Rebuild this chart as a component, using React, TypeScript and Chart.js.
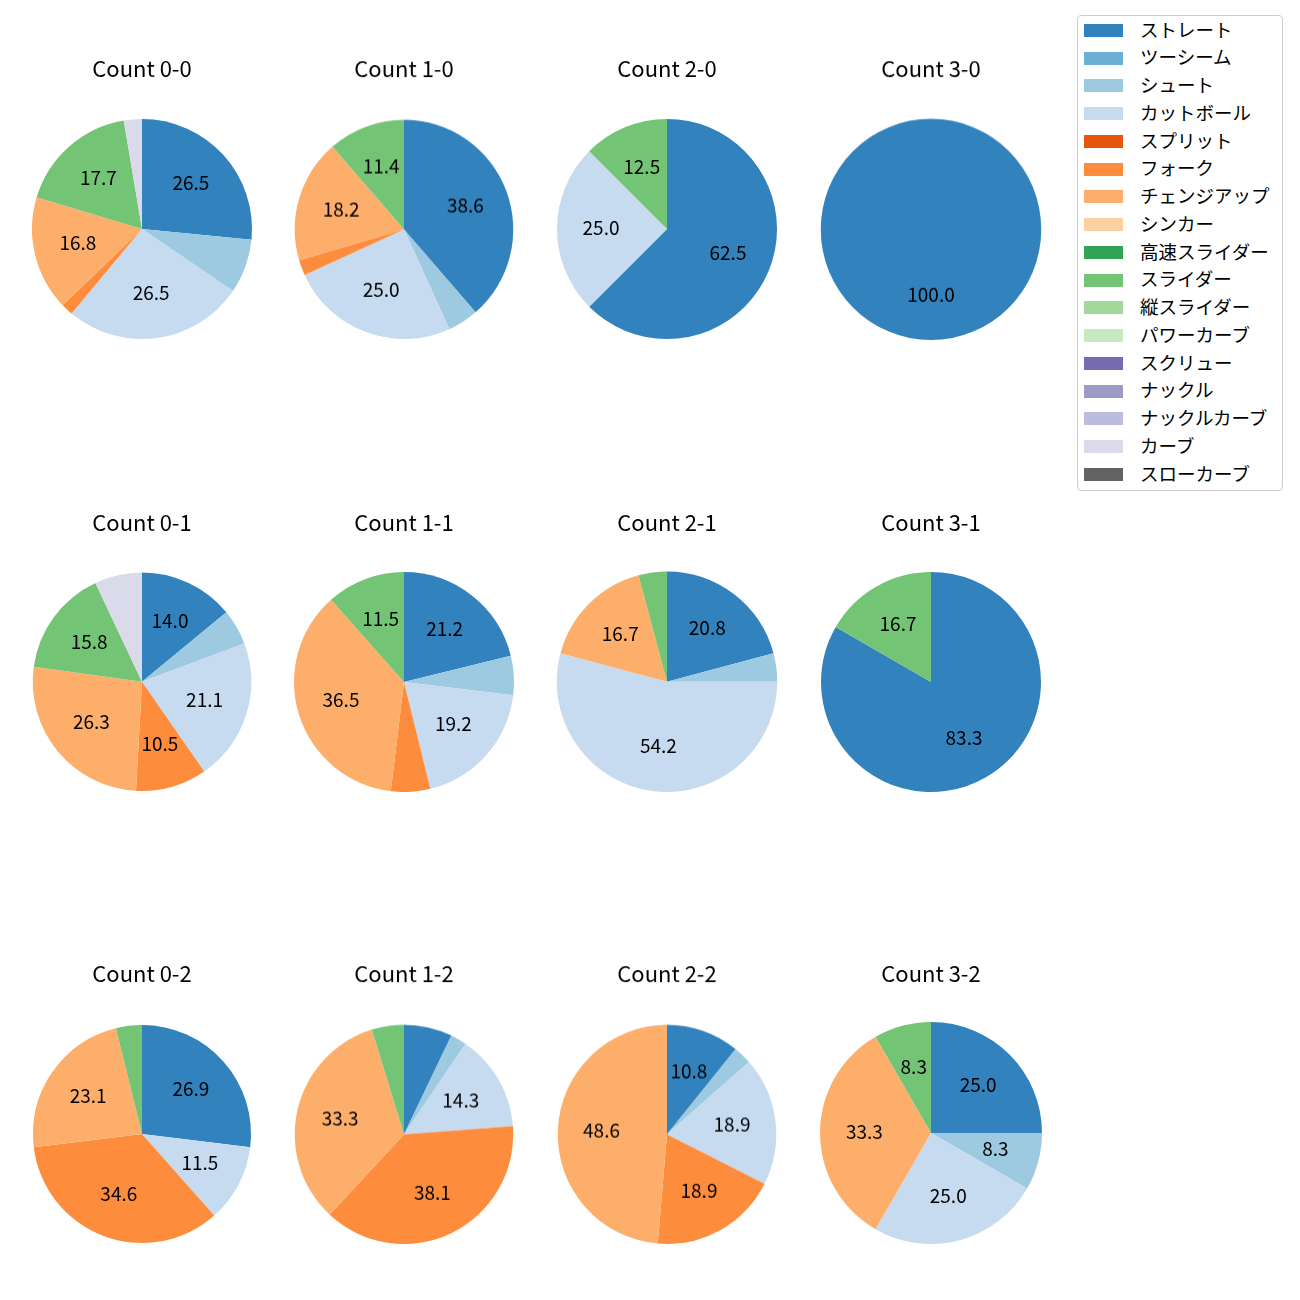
import React, { useEffect, useRef } from "react";
import { Chart, registerables } from "chart.js";

Chart.register(...registerables);

// ---------- data ----------
const pitchTypes = [
  "ストレート", "ツーシーム", "シュート", "カットボール", "スプリット", "フォーク",
  "チェンジアップ", "シンカー", "高速スライダー", "スライダー", "縦スライダー",
  "パワーカーブ", "スクリュー", "ナックル", "ナックルカーブ", "カーブ", "スローカーブ",
];
const pitchColors = [
  "#3182bd", "#6baed6", "#9ecae1", "#c6dbef", "#e6550d", "#fd8d3c",
  "#fdae6b", "#fdd0a2", "#31a354", "#74c476", "#a1d99b",
  "#c7e9c0", "#756bb1", "#9e9ac8", "#bcbddc", "#dadaeb", "#636363",
];

const countTitles = [
  "Count 0-0", "Count 1-0", "Count 2-0", "Count 3-0",
  "Count 0-1", "Count 1-1", "Count 2-1", "Count 3-1",
  "Count 0-2", "Count 1-2", "Count 2-2", "Count 3-2",
];

// pitch counts per pitch type (same order as pitchTypes)
const count00 = [30, 0, 9, 30, 0, 2, 19, 0, 0, 20, 0, 0, 0, 0, 0, 3, 0];
const count10 = [17, 0, 2, 11, 0, 1, 8, 0, 0, 5, 0, 0, 0, 0, 0, 0, 0];
const count20 = [5, 0, 0, 2, 0, 0, 0, 0, 0, 1, 0, 0, 0, 0, 0, 0, 0];
const count30 = [1, 0, 0, 0, 0, 0, 0, 0, 0, 0, 0, 0, 0, 0, 0, 0, 0];
const count01 = [8, 0, 3, 12, 0, 6, 15, 0, 0, 9, 0, 0, 0, 0, 0, 4, 0];
const count11 = [11, 0, 3, 10, 0, 3, 19, 0, 0, 6, 0, 0, 0, 0, 0, 0, 0];
const count21 = [5, 0, 1, 13, 0, 0, 4, 0, 0, 1, 0, 0, 0, 0, 0, 0, 0];
const count31 = [5, 0, 0, 0, 0, 0, 0, 0, 0, 1, 0, 0, 0, 0, 0, 0, 0];
const count02 = [7, 0, 0, 3, 0, 9, 6, 0, 0, 1, 0, 0, 0, 0, 0, 0, 0];
const count12 = [3, 0, 1, 6, 0, 16, 14, 0, 0, 2, 0, 0, 0, 0, 0, 0, 0];
const count22 = [4, 0, 1, 7, 0, 7, 18, 0, 0, 0, 0, 0, 0, 0, 0, 0, 0];
const count32 = [3, 0, 1, 3, 0, 0, 4, 0, 0, 1, 0, 0, 0, 0, 0, 0, 0];

const countValues = [
  count00, count10, count20, count30,
  count01, count11, count21, count31,
  count02, count12, count22, count32,
];

const labelThreshold = 8;

// ---------- layout / style ----------
const FONT = '"Noto Sans CJK JP", "Noto Sans", sans-serif';
const TITLE_SIZE = 22;
const LABEL_SIZE = 19;
const LEGEND_SIZE = 18.5;
const LABEL_DY = -1.5;

const colCenters = [141.5, 404, 667, 930.5];
const rowCenters = [229, 681.5, 1134];
const titleCenters = [69, 522, 974];
const radii = [
  [110, 109.5, 110, 110.5],
  [109.5, 110, 110.5, 110],
  [109, 109.5, 109.5, 111],
];
const cellShiftY = [
  [0, 0, 0, 0],
  [0, 0, 0, 0],
  [0, 0, 0, -1],
];

const pctLabels = {
  id: "pctLabels",
  afterDatasetsDraw(chart: any) {
    const ctx = chart.ctx;
    const meta = chart.getDatasetMeta(0);
    const data = chart.data.datasets[0].data as number[];
    const total = data.reduce((a, b) => a + b, 0);
    ctx.save();
    ctx.font = `${LABEL_SIZE}px ${FONT}`;
    ctx.fillStyle = "#000";
    ctx.textAlign = "center";
    ctx.textBaseline = "middle";
    meta.data.forEach((arc: any, i: number) => {
      const pct = (data[i] / total) * 100;
      if (pct < labelThreshold) return;
      const p = arc.getProps(["x", "y", "startAngle", "endAngle", "outerRadius"], true);
      const mid = (p.startAngle + p.endAngle) / 2;
      const rr = p.outerRadius * 0.6;
      ctx.fillText(pct.toFixed(1), p.x + Math.cos(mid) * rr, p.y + Math.sin(mid) * rr + LABEL_DY);
    });
    ctx.restore();
  },
};

type CellProps = {
  title: string;
  values: number[];
  cx: number;
  cy: number;
  r: number;
  titleY: number;
};

function PieCell({ title, values, cx, cy, r, titleY }: CellProps) {
  const ref = useRef<HTMLCanvasElement>(null);
  const W = 262;
  const top = cy - 190;
  const H = 190 + r + 10;
  useEffect(() => {
    const lh = TITLE_SIZE * 1.2;
    const padTop = titleY - top - lh / 2;
    const padBottom = 190 - r - padTop - lh;
    const chart = new Chart(ref.current as HTMLCanvasElement, {
      type: "pie",
      data: {
        labels: pitchTypes,
        datasets: [{ data: values, backgroundColor: pitchColors, borderWidth: 0 }],
      },
      options: {
        animation: false,
        responsive: false,
        maintainAspectRatio: false,
        layout: { padding: { top: 0, left: 0, right: 0, bottom: 10 } },
        plugins: {
          legend: { display: false },
          tooltip: { enabled: false },
          title: {
            display: true,
            text: title,
            color: "#000",
            font: { family: FONT, size: TITLE_SIZE, weight: "normal", lineHeight: 1.2 },
            padding: { top: padTop, bottom: padBottom },
          },
        },
      } as any,
      plugins: [pctLabels as any],
    });
    return () => chart.destroy();
  }, []);
  return (
    <canvas
      ref={ref}
      width={W}
      height={H}
      style={{ position: "absolute", left: cx - W / 2, top, width: W, height: H }}
    />
  );
}

function Legend() {
  return (
    <div
      style={{
        position: "absolute",
        left: 1077,
        top: 15,
        width: 204,
        height: 474,
        border: "1px solid #cccccc",
        borderRadius: 4,
        background: "#fff",
        fontFamily: FONT,
        fontSize: LEGEND_SIZE,
        color: "#000",
      }}
    >
      {pitchTypes.map((name, i) => (
        <div
          key={name}
          style={{
            position: "absolute",
            left: 0,
            top: 0.5 + i * 27.75,
            height: 27.75,
            width: 204,
            display: "flex",
            alignItems: "center",
          }}
        >
          <div
            style={{
              marginLeft: 6,
              width: 39,
              height: 13,
              background: pitchColors[i],
              flex: "none",
            }}
          />
          <span
            style={{
              marginLeft: 17,
              whiteSpace: "nowrap",
              lineHeight: "27.75px",
              position: "relative",
              top: -1,
            }}
          >
            {name}
          </span>
        </div>
      ))}
    </div>
  );
}

export default function App() {
  return (
    <div
      style={{
        position: "absolute",
        left: 0,
        top: 0,
        width: 1300,
        height: 1300,
        background: "#fff",
        overflow: "hidden",
      }}
    >
      {countTitles.map((t, k) => {
        const row = Math.floor(k / 4);
        const col = k % 4;
        return (
          <PieCell
            key={t}
            title={t}
            values={countValues[k]}
            cx={colCenters[col]}
            cy={rowCenters[row] + cellShiftY[row][col]}
            r={radii[row][col]}
            titleY={titleCenters[row]}
          />
        );
      })}
      <Legend />
    </div>
  );
}
